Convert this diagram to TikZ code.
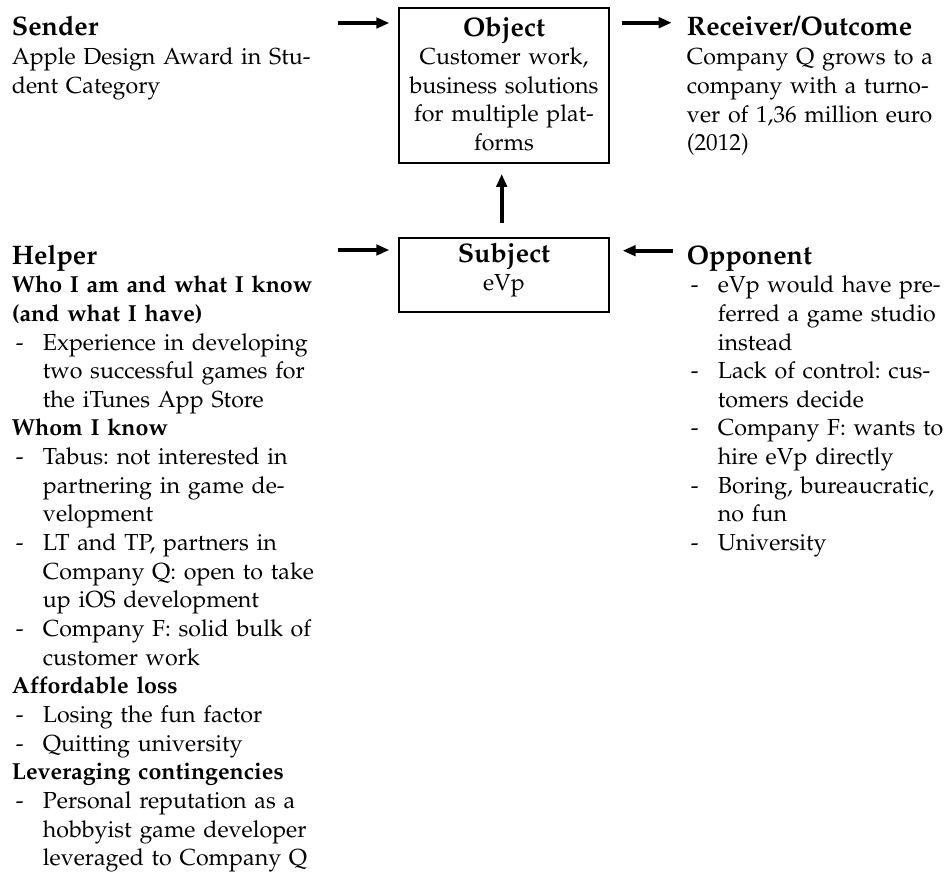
\documentclass[tikz,border=0pt]{standalone}
\usepackage[T1]{fontenc}
\usepackage{mathpazo}
\usetikzlibrary{arrows.meta}

% text sizes
\newcommand\bodyfont{\fontsize{23.2}{28.65}\selectfont\frenchspacing}
\newcommand\headfont{\fontsize{26.8}{30}\selectfont\bfseries}
% list helpers: a dash in a hanging indent, and the indent for continuation lines
\newcommand\dashitem{\makebox[31pt][l]{\hspace*{4pt}-}}
\newcommand\contline{\hspace*{31pt}}

\tikzset{
  heading/.style={anchor=base west, inner sep=0pt, font=\headfont},
  cheading/.style={anchor=base, inner sep=0pt, font=\headfont},
  body/.style={anchor=base west, inner sep=0pt, text width=320pt, align=left, font=\bodyfont},
  cbody/.style={anchor=base, inner sep=0pt, text width=210pt, align=center, font=\bodyfont},
  frame/.style={draw, line width=1.3pt, inner sep=0pt},
  flow/.style={line width=4pt, -{Triangle[length=13pt,width=10.5pt]}},
}

\begin{document}
\begin{tikzpicture}[x=1pt, y=-1pt]
\useasboundingbox (0,0) rectangle (946,872);

% ---- top row: sender, object, receiver ----
\node[heading] (sendH) at (11.7,36) {Sender};
\node[body] (sendB) at (11.7,64.8) {Apple Design Award in Stu-\\dent Category};

\node[frame, minimum width=210pt, minimum height=155pt] (objBox) at (504,85.5) {};
\node[cheading] (objH) at (504,36.5) {Object};
\node[cbody] (objB) at (504,64.5) {Customer work,\\business solutions\\for multiple plat-\\forms};

\node[heading] (recH) at (686.7,36) {Receiver/Outcome};
\node[body] (recB) at (686.7,64.8) {Company Q grows to a\\company with a turno-\\ver of 1,36 million euro\\(2012)};

% ---- middle row: helper, subject, opponent ----
\node[frame, minimum width=210pt, minimum height=74pt] (subBox) at (504,275) {};
\node[cheading] (subH) at (504,262.7) {Subject};
\node[cbody] (subB) at (504,290.5) {eVp};

\node[heading] (helpH) at (11.7,265) {Helper};
\node[body] (helpB) at (11.7,292.7) {%
\textbf{Who I am and what I know}\\
\textbf{(and what I have)}\\
\dashitem Experience in developing\\
\contline two successful games for\\
\contline the iTunes App Store\\
\textbf{Whom I know}\\
\dashitem Tabus: not interested in\\
\contline partnering in game de-\\
\contline velopment\\
\dashitem LT and TP, partners in\\
\contline Company Q: open to take\\
\contline up iOS development\\
\dashitem Company F: solid bulk of\\
\contline customer work\\
\textbf{Affordable loss}\\
\dashitem Losing the fun factor\\
\dashitem Quitting university\\
\textbf{Leveraging contingencies}\\
\dashitem Personal reputation as a\\
\contline hobbyist game developer\\
\contline leveraged to Company Q};

\node[heading] (oppH) at (686.7,264.5) {Opponent};
\node[body] (oppB) at (686.7,292.7) {%
\dashitem eVp would have pre-\\
\contline ferred a game studio\\
\contline instead\\
\dashitem Lack of control: cus-\\
\contline tomers decide\\
\dashitem Company F: wants to\\
\contline hire eVp directly\\
\dashitem Boring, bureaucratic,\\
\contline no fun\\
\dashitem University};

% ---- arrow end points ----
\coordinate (sendA1) at (337.7,23);
\coordinate (sendA2) at (389.3,23);
\coordinate (recA1) at (621.7,22.7);
\coordinate (recA2) at (671.7,22.7);
\coordinate (helpA1) at (337.7,250);
\coordinate (helpA2) at (389.3,250);
\coordinate (oppA1) at (672.7,250.7);
\coordinate (oppA2) at (622.7,250.7);

% ---- arrows ----
\draw[flow] (sendA1) -- (sendA2);
\draw[flow] (recA1) -- (recA2);
\draw[flow] (helpA1) -- (helpA2);
\draw[flow] (oppA1) -- (oppA2);
\draw[flow] ([xshift=-2.3pt, yshift=14.5pt]subBox.north) -- ([xshift=-2.3pt, yshift=-10.3pt]objBox.south);
\end{tikzpicture}
\end{document}
